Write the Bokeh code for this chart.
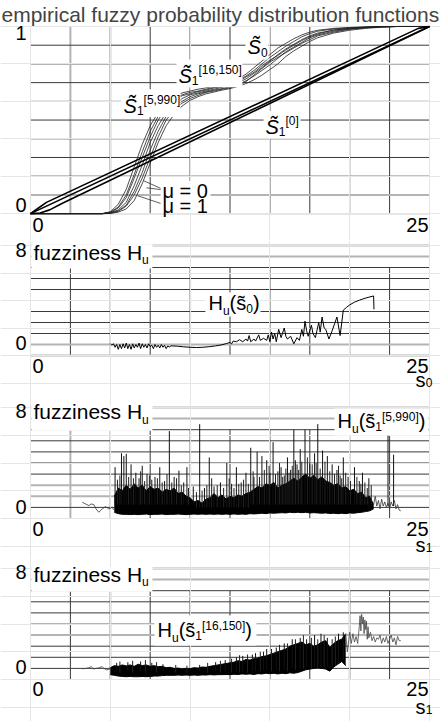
from bokeh.plotting import figure
from bokeh.models import Label, BoxAnnotation, Range1d
from bokeh.layouts import column
from bokeh.embed import file_html
from bokeh.resources import INLINE

FONT = "Liberation Sans"
TITLE = "empirical fuzzy probability distribution functions"

# ---------------- data ----------------
GRID_X = [0, 2.5, 5, 7.5, 10, 12.5, 15, 17.5, 20, 22.5, 25]
GRID_Y1 = [0, 0.1, 0.2, 0.3, 0.4, 0.5, 0.6, 0.7, 0.8, 0.9, 1.0]
GRID_YH = [0, 0.8, 1.6, 2.4, 3.2, 4.0, 4.8, 5.6, 6.4]
GRID_YH_TOP = [7.2, 8.0]

# fuzzy distribution functions (several bounding curves of the fuzzy bands)
S_X = [0, 4.5, 5.0, 5.5, 6.0, 6.5, 7.0, 7.5, 8.0, 8.5, 9.0, 9.5, 10.0, 10.5, 11.0, 11.5, 12.0, 12.5,
       13.0, 13.5, 14.0, 14.5, 15.0, 15.5, 16.0, 16.5, 17.0, 17.5, 18.0, 19.0, 20.0, 21.0, 22.0, 23.0, 24.0, 25.0]
S_A = [0, 0, 0.01, 0.05, 0.13, 0.25, 0.37, 0.47, 0.54, 0.59, 0.625, 0.645, 0.655, 0.665, 0.672, 0.68, 0.69, 0.70,
       0.72, 0.745, 0.78, 0.815, 0.85, 0.885, 0.91, 0.935, 0.955, 0.97, 0.98, 0.99, 0.995, 0.998, 1, 1, 1, 1]
S_B = [0, 0, 0.008, 0.035, 0.1, 0.21, 0.33, 0.44, 0.52, 0.575, 0.61, 0.635, 0.648, 0.655, 0.665, 0.675, 0.683, 0.695,
       0.712, 0.735, 0.765, 0.80, 0.835, 0.865, 0.895, 0.92, 0.945, 0.962, 0.975, 0.987, 0.993, 0.997, 1, 1, 1, 1]
S_C = [0, 0, 0.005, 0.02, 0.06, 0.15, 0.26, 0.38, 0.47, 0.54, 0.58, 0.615, 0.635, 0.645, 0.655, 0.665, 0.675, 0.685,
       0.70, 0.72, 0.75, 0.78, 0.815, 0.85, 0.88, 0.905, 0.93, 0.95, 0.965, 0.98, 0.99, 0.995, 0.998, 1, 1, 1]
S_D = [0, 0, 0.003, 0.015, 0.045, 0.12, 0.22, 0.34, 0.44, 0.52, 0.565, 0.60, 0.625, 0.64, 0.65, 0.66, 0.668, 0.678,
       0.69, 0.71, 0.735, 0.765, 0.795, 0.83, 0.865, 0.89, 0.915, 0.94, 0.955, 0.975, 0.987, 0.994, 0.998, 1, 1, 1]
S_E = [0, 0, 0.001, 0.008, 0.025, 0.07, 0.16, 0.27, 0.38, 0.47, 0.53, 0.575, 0.605, 0.625, 0.64, 0.65, 0.66, 0.668,
       0.68, 0.695, 0.715, 0.74, 0.77, 0.80, 0.84, 0.87, 0.895, 0.92, 0.94, 0.965, 0.98, 0.99, 0.996, 1, 1, 1]
S_F = [0, 0, 0.006, 0.03, 0.085, 0.19, 0.30, 0.41, 0.50, 0.565, 0.60, 0.63, 0.64, 0.652, 0.66, 0.672, 0.678, 0.69,
       0.705, 0.73, 0.755, 0.79, 0.82, 0.845, 0.875, 0.90, 0.925, 0.945, 0.96, 0.982, 0.99, 0.996, 1, 1, 1, 1]
S_G = [0, 0, 0.002, 0.012, 0.04, 0.1, 0.19, 0.30, 0.41, 0.50, 0.555, 0.59, 0.615, 0.632, 0.648, 0.655, 0.665, 0.672,
       0.685, 0.705, 0.74, 0.775, 0.81, 0.835, 0.86, 0.885, 0.91, 0.93, 0.95, 0.97, 0.985, 0.993, 0.998, 1, 1, 1]

# S1^[0]: uniform fuzzy distribution (three lines)
DIAG_MID_X = [0, 25]
DIAG_MID_Y = [0, 1]
DIAG_UP_X = [0, 0.5, 1.0, 24.3, 25]
DIAG_UP_Y = [0, 0.03, 0.06, 0.99, 1.0]
DIAG_LO_X = [0, 0.6, 1.2, 2.0, 25]
DIAG_LO_Y = [0, 0.003, 0.02, 0.055, 1.0]

# leader lines of the mu annotations: (x0, y0, x1, y1)
MU_LEADERS = [(8.21, 0.133, 7.08, 0.176), (8.21, 0.128, 7.27, 0.138), (8.21, 0.053, 6.7, 0.096)]

# fuzziness of s0
H0 = [(5.0, 0.85), (5.1, 0.75), (5.2, 0.85), (5.3, 0.6), (5.4, 0.8), (5.5, 0.45), (5.6, 0.8), (5.7, 0.5),
      (5.8, 0.85), (5.9, 0.55), (6.0, 0.9), (6.1, 0.5), (6.2, 0.8), (6.3, 0.45), (6.4, 0.85), (6.5, 0.55),
      (6.6, 0.8), (6.7, 0.6), (6.8, 0.9), (6.9, 0.5), (7.0, 0.85), (7.1, 0.6), (7.2, 0.8), (7.3, 0.55),
      (7.4, 0.85), (7.5, 0.65), (7.6, 0.75), (7.7, 0.5), (7.8, 0.8), (7.9, 0.6), (8.0, 0.75), (8.1, 0.55),
      (8.2, 0.8), (8.3, 0.6), (8.4, 0.75), (8.5, 0.5), (8.6, 0.7), (8.7, 0.62), (8.8, 0.7),
      (9.2, 0.68), (9.6, 0.63), (10.0, 0.6), (10.4, 0.58), (10.8, 0.6), (11.2, 0.64), (11.6, 0.7),
      (12.0, 0.78), (12.3, 0.88), (12.5, 0.95), (12.6, 0.85), (12.7, 1.05),
      (12.9, 1.0), (13.1, 1.15), (13.3, 1.0), (13.5, 1.2), (13.6, 1.05), (13.7, 1.45), (13.8, 1.0),
      (14.0, 1.2), (14.1, 1.05), (14.3, 1.5), (14.4, 1.1), (14.6, 1.25), (14.8, 1.1), (14.9, 1.5),
      (15.0, 1.0), (15.1, 1.7), (15.2, 1.2), (15.3, 1.6), (15.4, 1.0), (15.55, 1.9), (15.7, 1.3),
      (15.9, 2.0), (16.0, 1.4), (16.1, 1.2), (16.3, 1.4), (16.5, 0.85), (16.7, 1.3), (16.85, 1.1),
      (17.0, 1.9), (17.1, 1.4), (17.2, 2.5), (17.3, 1.8), (17.4, 1.4), (17.6, 2.2), (17.7, 1.6),
      (17.85, 1.3), (18.06, 2.4), (18.15, 1.7), (18.27, 2.8), (18.4, 2.0), (18.5, 1.9), (18.7, 1.2),
      (18.9, 1.8), (19.05, 2.3), (19.2, 2.8), (19.4, 1.45), (19.6, 3.3),
      (19.8, 3.5), (20.0, 3.68), (20.3, 3.88), (20.6, 4.02), (20.9, 4.14), (21.2, 4.24), (21.5, 4.33),
      (21.52, 3.35)]

# fuzziness of s1^[5,990]
H5_TAIL_L = [(3.24, 1.17), (3.45, 1.05), (3.66, 0.93), (3.8, 1.05), (3.97, 1.0), (4.1, 0.7), (4.28, 0.45),
             (4.49, 0.69), (4.7, 0.86), (4.9, 0.69), (5.1, 0.8), (5.25, 0.6)]
H5_CORE = [(5.25, 0.45, 1.6), (5.5, 0.35, 2.2), (5.75, 0.3, 2.0), (6.0, 0.3, 2.4), (6.25, 0.28, 2.1),
           (6.5, 0.3, 2.5), (6.75, 0.28, 2.2), (7.0, 0.3, 2.4), (7.25, 0.32, 2.0), (7.5, 0.28, 2.3),
           (7.75, 0.3, 2.1), (8.0, 0.3, 2.2), (8.25, 0.32, 1.9), (8.5, 0.28, 2.1), (8.75, 0.3, 2.0),
           (9.0, 0.3, 2.2), (9.25, 0.32, 1.8), (9.5, 0.3, 1.9), (9.75, 0.28, 1.6), (10.0, 0.3, 1.5),
           (10.25, 0.32, 1.2), (10.5, 0.3, 1.3), (10.75, 0.32, 1.1), (11.0, 0.3, 1.4), (11.25, 0.32, 1.5),
           (11.5, 0.3, 1.8), (11.75, 0.32, 1.5), (12.0, 0.3, 1.7), (12.25, 0.32, 1.4), (12.5, 0.3, 1.6),
           (12.75, 0.33, 1.5), (13.0, 0.3, 1.7), (13.25, 0.32, 1.6), (13.5, 0.3, 1.8), (13.75, 0.35, 1.9),
           (14.0, 0.33, 2.1), (14.25, 0.35, 2.3), (14.5, 0.38, 2.2), (14.75, 0.35, 2.5), (15.0, 0.4, 2.4),
           (15.25, 0.38, 2.6), (15.5, 0.4, 2.2), (15.75, 0.42, 2.4), (16.0, 0.4, 2.5), (16.25, 0.45, 2.7),
           (16.5, 0.42, 2.9), (16.75, 0.45, 2.7), (17.0, 0.42, 3.0), (17.25, 0.45, 3.2), (17.5, 0.4, 2.9),
           (17.75, 0.42, 3.1), (18.0, 0.4, 2.8), (18.25, 0.38, 3.0), (18.5, 0.4, 2.7), (18.75, 0.36, 2.6),
           (19.0, 0.38, 2.4), (19.25, 0.35, 2.5), (19.5, 0.38, 2.2), (19.75, 0.35, 2.3), (20.0, 0.4, 2.0),
           (20.25, 0.38, 2.1), (20.5, 0.42, 1.8), (20.75, 0.45, 1.9), (21.0, 0.5, 1.5), (21.25, 0.55, 1.6),
           (21.5, 0.7, 1.0)]
H5_SPIKES = [(5.3, 1.0, 3.7), (5.7, 1.0, 4.7), (5.85, 1.0, 4.5), (6.0, 1.0, 4.66), (6.3, 1.0, 3.9),
             (6.6, 1.0, 3.3), (6.8, 1.0, 2.9), (7.0, 1.0, 3.8), (7.3, 1.0, 3.2), (7.6, 1.0, 2.8),
             (7.8, 1.0, 3.0), (8.1, 1.0, 3.7), (8.4, 1.0, 2.7), (8.7, 1.0, 6.3), (9.0, 1.0, 3.0),
             (9.3, 1.0, 3.45), (9.6, 1.0, 2.6), (9.8, 1.0, 3.7), (10.2, 1.0, 2.3), (10.6, 0.8, 6.8),
             (10.9, 0.8, 2.2), (11.2, 0.8, 4.4), (11.5, 0.8, 2.3), (11.9, 0.8, 2.6), (12.3, 0.8, 4.0),
             (12.6, 0.8, 2.5), (12.9, 0.8, 3.7), (13.2, 0.8, 2.6), (13.5, 0.8, 3.3), (13.8, 1.0, 5.1),
             (14.0, 1.0, 3.0), (14.2, 1.0, 4.8), (14.5, 1.0, 4.5), (14.8, 1.0, 4.2), (15.0, 1.0, 3.3),
             (15.2, 1.0, 5.5), (15.5, 1.0, 3.4), (15.7, 1.0, 3.7), (15.9, 1.0, 3.1), (16.1, 1.0, 4.4),
             (16.3, 1.0, 3.5), (16.5, 1.0, 6.4), (16.7, 1.0, 3.9), (16.9, 1.0, 5.0), (17.2, 1.0, 6.4),
             (17.5, 1.0, 4.0), (17.8, 1.0, 4.7), (18.0, 1.0, 6.8), (18.3, 1.0, 4.9), (18.6, 1.0, 4.5),
             (18.9, 1.0, 3.9), (19.2, 1.0, 3.5), (19.4, 1.0, 3.1), (19.6, 1.0, 4.4), (19.9, 1.0, 3.0),
             (20.3, 1.0, 3.7), (20.6, 1.0, 2.7), (20.8, 1.0, 3.3), (21.2, 1.0, 2.9), (22.4, 0.9, 6.0),
             (22.75, 0.9, 4.6)]
H5_SHORT = [(5.45, 1.0, 2.8), (5.6, 1.0, 3.1), (6.15, 1.0, 3.0), (6.45, 1.0, 2.9), (6.9, 1.0, 3.4),
            (7.15, 1.0, 2.7), (7.45, 1.0, 3.1), (7.95, 1.0, 2.9), (8.25, 1.0, 2.6), (8.55, 1.0, 3.2),
            (8.85, 1.0, 2.6), (9.15, 1.0, 2.9), (9.45, 1.0, 2.4), (9.9, 1.0, 2.2), (10.4, 0.8, 1.9),
            (10.75, 0.8, 2.0), (11.05, 0.8, 2.4), (11.35, 0.8, 2.9), (11.7, 0.8, 2.4), (12.1, 0.8, 2.2),
            (12.45, 0.8, 2.9), (12.75, 0.8, 2.2), (13.05, 0.8, 2.5), (13.35, 0.8, 2.8), (13.65, 0.8, 2.5),
            (13.95, 1.0, 3.4), (14.35, 1.0, 3.0), (14.65, 1.0, 3.5), (14.95, 1.0, 3.8), (15.35, 1.0, 3.2),
            (15.6, 1.0, 4.0), (15.8, 1.0, 3.0), (16.0, 1.0, 3.6), (16.2, 1.0, 3.3), (16.4, 1.0, 3.8),
            (16.6, 1.0, 4.2), (16.8, 1.0, 3.5), (17.0, 1.0, 4.1), (17.35, 1.0, 4.4), (17.65, 1.0, 3.9),
            (17.9, 1.0, 4.0), (18.15, 1.0, 3.6), (18.45, 1.0, 4.1), (18.75, 1.0, 3.4), (19.05, 1.0, 3.2),
            (19.3, 1.0, 3.8), (19.5, 1.0, 2.9), (19.75, 1.0, 3.3), (20.05, 1.0, 2.7), (20.45, 1.0, 3.0),
            (20.7, 1.0, 2.5), (20.95, 1.0, 2.6), (21.1, 1.0, 2.2), (21.35, 1.0, 2.4)]
H5_TAIL_R = [(21.5, 1.0), (21.6, 1.6), (21.7, 0.9), (21.8, 1.3), (21.9, 0.7), (22.0, 1.4), (22.1, 0.9),
             (22.2, 1.2), (22.3, 0.8), (22.4, 1.1), (22.5, 0.7), (22.6, 1.2), (22.7, 0.9), (22.8, 1.3),
             (22.9, 0.7), (23.0, 1.0), (23.1, 0.6), (23.2, 0.55)]

# fuzziness of s1^[16,150]
H16_TAIL_L = [(3.24, 0.77), (3.45, 0.8), (3.66, 0.84), (3.8, 0.93), (3.97, 0.75), (4.1, 0.8), (4.28, 0.84),
              (4.49, 0.93), (4.6, 0.8), (4.76, 0.69), (5.0, 0.77)]
H16_CORE = [(5.0, 0.35, 0.85), (5.25, 0.3, 1.0), (5.5, 0.25, 0.95), (5.75, 0.22, 1.05), (6.0, 0.2, 0.98),
            (6.25, 0.22, 1.05), (6.5, 0.2, 0.95), (6.75, 0.2, 1.1), (7.0, 0.22, 1.0), (7.25, 0.2, 1.05),
            (7.5, 0.22, 0.95), (7.75, 0.25, 1.0), (8.0, 0.25, 0.92), (8.25, 0.28, 0.95), (8.5, 0.3, 0.85),
            (8.75, 0.3, 0.88), (9.0, 0.3, 0.8), (9.25, 0.32, 0.82), (9.5, 0.3, 0.75), (9.75, 0.32, 0.8),
            (10.0, 0.3, 0.78), (10.25, 0.32, 0.85), (10.5, 0.3, 0.82), (10.75, 0.33, 0.9), (11.0, 0.32, 0.88),
            (11.25, 0.35, 0.95), (11.5, 0.33, 1.0), (11.75, 0.35, 1.05), (12.0, 0.35, 1.1), (12.25, 0.36, 1.15),
            (12.5, 0.35, 1.2), (12.75, 0.38, 1.25), (13.0, 0.36, 1.35), (13.25, 0.4, 1.3), (13.5, 0.38, 1.45),
            (13.75, 0.4, 1.4), (14.0, 0.36, 1.5), (14.25, 0.42, 1.55), (14.5, 0.4, 1.65), (14.75, 0.45, 1.7),
            (15.0, 0.42, 1.8), (15.25, 0.45, 1.9), (15.5, 0.4, 2.0), (15.75, 0.45, 2.1), (16.0, 0.42, 2.2),
            (16.25, 0.48, 2.4), (16.5, 0.45, 2.5), (16.75, 0.5, 2.6), (17.0, 0.6, 2.7), (17.25, 0.7, 2.5),
            (17.5, 0.75, 2.6), (17.75, 0.8, 2.4), (18.0, 0.85, 2.5), (18.25, 0.8, 2.7), (18.5, 0.75, 2.8),
            (18.75, 0.6, 2.3), (19.0, 0.9, 2.6), (19.25, 1.1, 2.8), (19.5, 1.3, 2.9), (19.75, 1.0, 3.3)]
H16_SPIKES = [(5.4, 0.6, 1.2), (6.1, 0.6, 1.25), (6.9, 0.6, 1.3), (7.6, 0.6, 1.2), (8.3, 0.6, 1.1),
              (10.6, 0.6, 1.05), (11.6, 0.6, 1.25), (12.2, 0.6, 1.4), (12.9, 0.6, 1.6), (13.3, 0.6, 1.7),
              (13.9, 0.6, 1.8), (14.1, 0.6, 1.9), (14.6, 0.7, 2.0), (14.8, 0.7, 2.2), (15.4, 0.7, 2.3),
              (15.9, 0.7, 2.6), (16.4, 0.8, 2.9), (16.9, 0.8, 3.0), (17.3, 0.9, 2.9), (17.8, 0.9, 3.2),
              (18.2, 0.9, 3.3), (18.6, 0.9, 3.0), (19.3, 1.2, 3.3), (19.6, 1.4, 3.4)]
H16_SHORT = [(5.6, 0.5, 1.3), (6.4, 0.5, 1.35), (7.2, 0.5, 1.4), (7.9, 0.5, 1.25), (9.1, 0.5, 1.05),
             (9.8, 0.5, 1.0), (11.1, 0.5, 1.2), (11.9, 0.5, 1.35), (12.6, 0.5, 1.5), (13.1, 0.5, 1.75),
             (13.6, 0.5, 1.8), (14.4, 0.6, 2.0), (15.1, 0.6, 2.2), (15.6, 0.6, 2.5), (16.1, 0.6, 2.6),
             (16.6, 0.7, 2.9), (17.1, 0.8, 3.2), (17.6, 0.8, 3.0), (18.0, 0.9, 2.9), (18.4, 0.9, 3.2),
             (18.9, 0.9, 2.9), (19.1, 1.0, 3.1)]
H16_TAIL_R = [(19.75, 3.3), (19.85, 2.0), (19.95, 2.9), (20.0, 3.4), (20.1, 2.6), (20.2, 3.3), (20.3, 2.7),
              (20.4, 3.1), (20.5, 2.6), (20.6, 3.8), (20.65, 4.6), (20.7, 3.5), (20.75, 4.7), (20.8, 4.0),
              (20.85, 4.5), (20.9, 3.3), (20.95, 4.3), (21.0, 3.6), (21.05, 4.2), (21.1, 2.9), (21.15, 3.8),
              (21.2, 3.0), (21.3, 3.4), (21.4, 2.8), (21.5, 3.1), (21.6, 2.7), (21.7, 3.0), (21.8, 2.9),
              (21.9, 3.2), (22.0, 2.6), (22.1, 3.0), (22.2, 2.7), (22.3, 3.1), (22.4, 2.6), (22.5, 2.9),
              (22.6, 3.2), (22.7, 2.7), (22.8, 3.0), (22.9, 2.5), (23.0, 3.1), (23.1, 2.8), (23.2, 2.8)]

# ---------------- layout helpers ----------------
DARK = "#3a3a3a"
LIGHT = "#b4b4b4"
PAGE_X0, PAGE_X1 = 0, 440      # figure extent (layout is drawn from the page's top-left corner)
X0_PX, PPU_X = 30, 15.96       # pixel of x = 0, pixels per x unit
ASC = 0.905                    # font ascent (em) used to place texts by their baseline
CW = {'H': .722, 'u': .556, '(': .333, ')': .333, 's': .5, '[': .278, ']': .278, ',': .278,
      'S': .667, ' ': .278, 'f': .278, 'z': .5, 'i': .222, 'n': .556, 'e': .556, 'μ': .576, '=': .584}


def tw(t, size):
    tot = 0.0
    for c in t:
        if c == "\u0303":
            continue
        tot += CW.get(c, 0.556 if c.isdigit() else 0.5)
    return tot * size


def make_fig(page_top, page_bottom, zero_px, ppu_y, title_h=0, title=None):
    # the frame covers the whole figure so that texts in the margins are not clipped
    frame_top = page_top + title_h
    y_hi = (zero_px - frame_top) / ppu_y
    y_lo = (zero_px - page_bottom) / ppu_y
    x_lo = (PAGE_X0 - X0_PX) / PPU_X
    x_hi = (PAGE_X1 - X0_PX) / PPU_X
    kw = dict(width=PAGE_X1 - PAGE_X0, height=page_bottom - page_top,
              x_range=Range1d(x_lo, x_hi), y_range=Range1d(y_lo, y_hi),
              x_axis_location=None, y_axis_location=None,
              output_backend="svg", toolbar_location=None,
              min_border_left=0, min_border_right=0, min_border_top=title_h, min_border_bottom=0)
    if title:
        kw["title"] = title
    p = figure(**kw)
    p.outline_line_color = None
    return p


def gridlines(p, xs, ys, x_light, y_light, v_top, v_bot=0.0, h_x0=0.0):
    for x in xs:
        c, w = (LIGHT, 2) if x in x_light else (DARK, 1)
        p.segment(x0=[x], y0=[v_bot], x1=[x], y1=[v_top], line_color=c, line_width=w, level="underlay")
    for y in ys:
        c, w = (LIGHT, 2) if y in y_light else (DARK, 1)
        p.segment(x0=[h_x0], y0=[y], x1=[25], y1=[y], line_color=c, line_width=w, level="underlay")


def txt(p, t, x, y, dx=0, dy=0, size=20, align="left", style="normal"):
    # dy: offset (px, up) of the text baseline from the anchor point
    p.add_layout(Label(x=x, y=y, x_offset=dx, y_offset=dy + ASC * size, text=t, text_font=FONT,
                       text_font_size=f"{size}px", text_font_style=style, text_color="black",
                       text_align=align, text_baseline="top"))


def whitebox(p, x0, x1, y0, y1):
    p.add_layout(BoxAnnotation(left=x0, right=x1, bottom=y0, top=y1, fill_color="white", fill_alpha=1.0,
                               line_color=None, line_alpha=0))


def rich(p, x, y, parts):
    cum = 0.0
    for t, size, dy, style in parts:
        txt(p, t, x, y, dx=cum, dy=dy, size=size, style=style)
        cum += tw(t, size)


def unzip(pairs):
    return [a[0] for a in pairs], [a[1] for a in pairs]


def xlabels(p, dy_num, s_sub=None, dy_s=None):
    txt(p, "0", 0, 0, dx=2, dy=dy_num)
    txt(p, "25", 25, 0, dx=-1, dy=dy_num, align="right")
    if s_sub is not None:
        txt(p, "s", 25, 0, dx=-4, dy=dy_s, align="right")
        txt(p, s_sub, 25, 0, dx=3, dy=dy_s - 1, size=12, align="right")


# ---------------- panel 1 ----------------
p1 = make_fig(0, 240, 213, 188.0, title_h=24, title=TITLE)
p1.title.text_font = FONT
p1.title.text_font_size = "21px"
p1.title.text_font_style = "normal"
p1.title.align = "left"
p1.title.offset = 1
p1.title.standoff = 0
gridlines(p1, GRID_X, GRID_Y1, [2.5, 5], [0.1, 0.8], v_top=1.0)

for ys in (S_A, S_B, S_C, S_D, S_E, S_F, S_G):
    p1.line(S_X, ys, line_color="#202020", line_width=0.8)
for xs, ys in ((DIAG_UP_X, DIAG_UP_Y), (DIAG_MID_X, DIAG_MID_Y), (DIAG_LO_X, DIAG_LO_Y)):
    p1.line(xs, ys, line_color="black", line_width=1.6)
p1.segment(x0=[m[0] for m in MU_LEADERS], y0=[m[1] for m in MU_LEADERS],
           x1=[m[2] for m in MU_LEADERS], y1=[m[3] for m in MU_LEADERS], line_color="#333", line_width=0.8)

whitebox(p1, 13.47, 14.91, 0.824, 0.984)
whitebox(p1, 9.15, 13.28, 0.676, 0.824)
whitebox(p1, 5.70, 9.40, 0.516, 0.665)
whitebox(p1, 14.6, 16.92, 0.404, 0.548)
whitebox(p1, 8.15, 11.28, 0.004, 0.175)
rich(p1, 13.6, 0.851, [("S\u0303", 20, 0, "italic"), ("0", 12, -4, "normal")])
rich(p1, 9.27, 0.697, [("S\u0303", 20, 0, "italic"), ("1", 12, -4, "normal"), ("[16,150]", 12, 9, "normal")])
rich(p1, 5.83, 0.537, [("S\u0303", 20, 0, "italic"), ("1", 12, -4, "normal"), ("[5,990]", 12, 9, "normal")])
rich(p1, 14.72, 0.426, [("S\u0303", 20, 0, "italic"), ("1", 12, -4, "normal"), ("[0]", 12, 9, "normal")])
txt(p1, "μ = 0", 8.27, 0.085)
txt(p1, "μ = 1", 8.27, 0.005)
txt(p1, "1", 0, 1, dx=-4, dy=-18, align="right")
txt(p1, "0", 0, 0, dx=-4, dy=-2, align="right")
xlabels(p1, -22.5)


# ---------------- fuzziness panels ----------------
def h_panel(page_top, page_bottom, zero_px, ppu, x_light, y_light, y_fuzz, dy_eight, dy_num, s_sub, dy_s,
            dy_zero):
    p = make_fig(page_top, page_bottom, zero_px, ppu)
    gridlines(p, GRID_X, GRID_YH, x_light, y_light, v_top=6.4)
    gridlines(p, [0], GRID_YH_TOP, [], GRID_YH_TOP, v_top=8.2)
    whitebox(p, 0.06, 7.64, 6.33, 8.1)
    rich(p, 0.19, y_fuzz, [("fuzziness H", 21, 0, "normal"), ("u", 12, -4, "normal")])
    txt(p, "8", 0, 8, dx=-4, dy=dy_eight, align="right")
    txt(p, "0", 0, 0, dx=-4, dy=dy_zero, align="right")
    xlabels(p, dy_num, s_sub, dy_s)
    return p


p2 = h_panel(240, 396, 355, 13.75, [10.0], [0, 0.8], 6.97, -16, -22, "0", -32, 1)
hx, hy = unzip(H0)
p2.line(hx, hy, line_color="black", line_width=1)
whitebox(p2, 10.96, 14.41, 2.84, 4.58)
rich(p2, 11.15, 3.27, [("H", 20, 0, "normal"), ("u", 12, -4, "normal"), ("(s\u0303", 20, 0, "normal"),
                       ("0", 12, -4, "normal"), (")", 20, 0, "normal")])


def dense(p, tail_l, core, spikes, short, tail_r, tail_color):
    tx, ty = unzip(tail_l)
    p.line(tx, ty, line_color=tail_color, line_width=0.8)
    cx = [c[0] for c in core]
    lo = [c[1] for c in core]
    hi = [c[2] for c in core]
    p.varea(x=cx, y1=lo, y2=hi, fill_color="black")
    p.line(cx, hi, line_color="black", line_width=1)
    p.line(cx, lo, line_color="black", line_width=1)
    for sp, col in ((spikes, "#111111"), (short, "#222222")):
        p.segment(x0=[s[0] for s in sp], y0=[s[1] for s in sp],
                  x1=[s[0] for s in sp], y1=[s[2] for s in sp], line_color=col, line_width=1)
    rx, ry = unzip(tail_r)
    p.line(rx, ry, line_color=tail_color, line_width=0.8)


p3 = h_panel(396, 558, 518, 111 / 8, [2.5, 10.0], [1.6, 2.4], 7.14, -14.7, -22, "1", -34, 0)
dense(p3, H5_TAIL_L, H5_CORE, H5_SPIKES, H5_SHORT, H5_TAIL_R, "#333")
whitebox(p3, 19.05, 24.94, 5.98, 7.93)
rich(p3, 19.24, 6.49, [("H", 20, 0, "normal"), ("u", 12, -4, "normal"), ("(s\u0303", 20, 0, "normal"),
                       ("1", 12, -4, "normal"), ("[5,990]", 12, 8, "normal"), (")", 20, 0, "normal")])

p4 = h_panel(558, 721, 679, 111 / 8, [5.0, 20.0], [3.2, 4.0], 7.06, -15, -21, "1", -35, 1)
dense(p4, H16_TAIL_L, H16_CORE, H16_SPIKES, H16_SHORT, H16_TAIL_R, "#444")
whitebox(p4, 7.77, 14.16, 2.45, 4.61)
rich(p4, 7.96, 3.03, [("H", 20, 0, "normal"), ("u", 12, -4, "normal"), ("(s\u0303", 20, 0, "normal"),
                      ("1", 12, -4, "normal"), ("[16,150]", 12, 8, "normal"), (")", 20, 0, "normal")])

layout = column(p1, p2, p3, p4, spacing=0)
open("out.html", "w").write(file_html(layout, INLINE))
